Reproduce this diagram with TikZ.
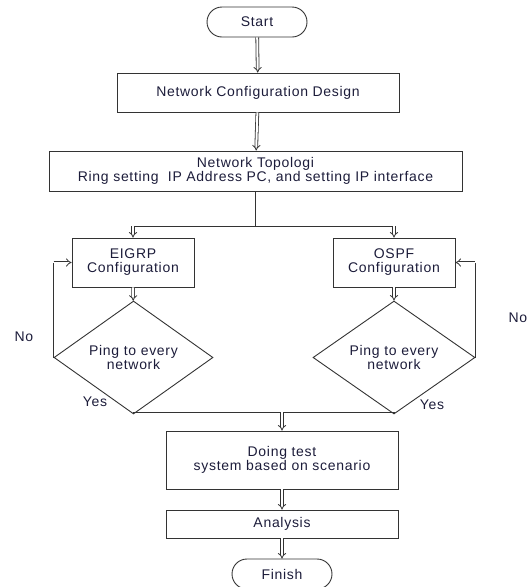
\documentclass[tikz,border=0pt]{standalone}
\usepackage{fontspec}
\setmainfont{Liberation Sans}[LetterSpace=5]
\usepackage{tikz}
\usetikzlibrary{shapes.geometric,shapes.misc,arrows.meta,calc}
\definecolor{FlowLine}{HTML}{333333}
\definecolor{FlowText}{HTML}{1C1C3A}

\tikzset{
  flowtext/.style={text=FlowText, font=\fontsize{14}{16}\selectfont, align=center},
  terminal/.style={rounded rectangle, draw=FlowLine, line width=0.9pt, flowtext,
    minimum width=100pt, minimum height=30pt, inner sep=0pt},
  process/.style={rectangle, draw=FlowLine, line width=0.9pt, flowtext, inner sep=0pt},
  decision/.style={diamond, draw=FlowLine, line width=0.9pt, flowtext, inner sep=0pt},
  flowarrow/.style={draw=FlowLine, line width=0.8pt, double, double distance=2pt, -{Implies}},
  flowline/.style={draw=FlowLine, line width=0.9pt},
  answer/.style={text=FlowText, font=\fontsize{14}{16}\selectfont}
}

\begin{document}
\begin{tikzpicture}[x=1pt, y=-1pt]
    \useasboundingbox (0,0) rectangle (529,587);

    % main column
    \node[terminal] (start) at (257,22) {Start};
    \node[process, minimum width=282pt, minimum height=39pt] (design) at (258,92.5) {Network Configuration Design};
    \node[process, minimum width=413pt, minimum height=40pt] (topo) at (255.5,171)
        {Network Topologi\\[-2pt]Ring setting\ \ IP Address PC, and setting IP interface};

    % two branches
    \node[process, minimum width=122pt, minimum height=49pt] (eigrp) at (133,262.5) {EIGRP\\[-2pt]Configuration};
    \node[process, minimum width=122pt, minimum height=49pt] (ospf) at (394,262.5) {OSPF\\[-2pt]Configuration};
    \node[decision, minimum width=159pt, minimum height=83pt] (pingl) at (133.5,357.5) {Ping to every\\[-2pt]network};
    \node[decision, minimum width=162pt, minimum height=83pt] (pingr) at (394,357.5) {Ping to every\\[-2pt]network};

    \node[process, minimum width=232pt, minimum height=58pt] (test) at (282,460) {Doing test\\[-2pt]system based on scenario};
    \node[process, minimum width=232pt, minimum height=28pt] (analysis) at (282,524) {Analysis};
    \node[terminal] (finish) at (282,574) {Finish};

    \coordinate (split) at (topo.south |- 0,226);
    \coordinate (join) at (test.north |- 0,412);

    % connectors
    \draw[flowarrow] (start) -- (design);
    \draw[flowarrow] (design) -- (topo);
    \draw[flowline] (topo.south) -- (split);
    \draw[flowline] (eigrp.north |- split) -- (ospf.north |- split);
    \draw[flowarrow] (eigrp.north |- split) -- (eigrp.north);
    \draw[flowarrow] (ospf.north |- split) -- (ospf.north);
    \draw[flowarrow] (eigrp) -- (pingl);
    \draw[flowarrow] (ospf) -- (pingr);
    \draw[flowline] (pingl.west) -- (pingl.west |- eigrp.west);
    \draw[flowarrow] (pingl.west |- eigrp.west) -- (eigrp.west);
    \draw[flowline] (pingr.east) -- (pingr.east |- ospf.east);
    \draw[flowarrow] (pingr.east |- ospf.east) -- (ospf.east);
    \draw[flowline] (pingl.south) -- (pingl.south |- join) -- (pingr.south |- join) -- (pingr.south);
    \draw[flowarrow] (join) -- (test);
    \draw[flowarrow] (test) -- (analysis);
    \draw[flowarrow] (analysis) -- (finish);

    % answers
    \node[answer] (nol) at (24,337) {No};
    \node[answer] (nor) at (518,318) {No};
    \node[answer] (yesl) at (95,402) {Yes};
    \node[answer] (yesr) at (432,405) {Yes};
\end{tikzpicture}
\end{document}
